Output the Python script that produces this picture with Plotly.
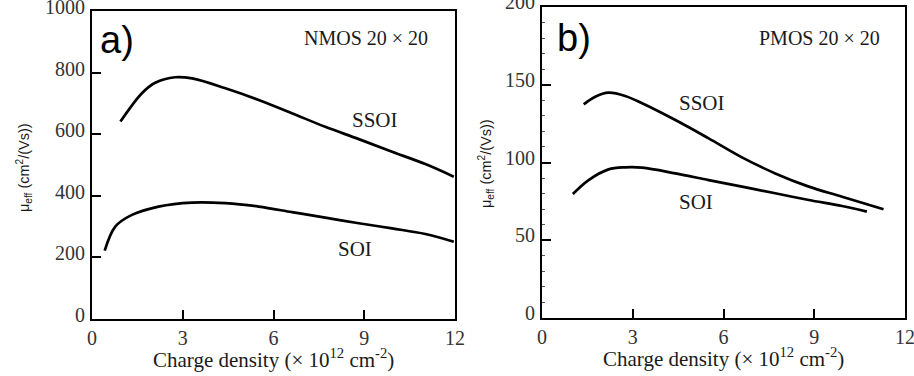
import plotly.graph_objects as go

# Panel a (NMOS)
a_ssoi_x = [0.94, 1.65, 2.09, 2.75, 3.31, 4.41, 5.51, 6.61, 7.71, 8.82, 9.92, 11.02, 11.96]
a_ssoi_y = [641, 733, 767, 785, 781, 749, 711, 668, 624, 584, 543, 503, 462]
a_soi_x = [0.42, 0.77, 1.32, 2.2, 3.31, 4.41, 5.51, 6.61, 7.71, 8.82, 9.92, 11.02, 11.96]
a_soi_y = [222, 300, 338, 365, 378, 376, 365, 347, 329, 311, 294, 276, 251]

# Panel b (PMOS)
b_ssoi_x = [1.38, 1.76, 2.2, 2.75, 3.31, 4.41, 5.51, 6.61, 7.71, 8.82, 9.92, 11.29]
b_ssoi_y = [137.4, 142.3, 144.9, 142.8, 138.1, 127.3, 115.5, 103.3, 93.0, 84.5, 78.0, 69.9]
b_soi_x = [1.02, 1.54, 2.2, 2.75, 3.31, 4.41, 5.51, 6.61, 7.71, 8.82, 9.92, 10.74]
b_soi_y = [79.7, 88.7, 95.6, 96.9, 96.7, 93.0, 88.7, 84.5, 80.2, 75.9, 72.0, 68.4]

x_ticks = [0, 3, 6, 9, 12]
a_y_ticks = [0, 200, 400, 600, 800, 1000]
b_y_ticks = [0, 50, 100, 150, 200]

line_style = dict(color="black", width=2.7, shape="spline", smoothing=1.0)

fig = go.Figure()
fig.add_trace(go.Scatter(x=a_ssoi_x, y=a_ssoi_y, mode="lines", line=line_style, xaxis="x", yaxis="y"))
fig.add_trace(go.Scatter(x=a_soi_x, y=a_soi_y, mode="lines", line=line_style, xaxis="x", yaxis="y"))
fig.add_trace(go.Scatter(x=b_ssoi_x, y=b_ssoi_y, mode="lines", line=line_style, xaxis="x2", yaxis="y2"))
fig.add_trace(go.Scatter(x=b_soi_x, y=b_soi_y, mode="lines", line=line_style, xaxis="x2", yaxis="y2"))

tickfont = dict(family="Liberation Serif", size=20, color="#333333")
common = dict(showline=True, linecolor="black", linewidth=2, mirror=True, ticks="inside",
              ticklen=9, tickwidth=1.5, tickcolor="black", showgrid=False, zeroline=False,
              tickfont=tickfont, automargin=False, ticklabeloverflow="allow")

fig.update_layout(
    template="none",
    width=914, height=376, margin=dict(l=0, r=0, t=0, b=0, pad=0),
    paper_bgcolor="white", plot_bgcolor="white", showlegend=False,
    xaxis=dict(domain=[92/914, 455/914], range=[0, 12], tickvals=x_ticks, anchor="y",
               ticklabelstandoff=0, **common),
    yaxis=dict(domain=[1-319/376, 1-11/376], range=[0, 1000], tickvals=a_y_ticks, anchor="x",
               ticklabelshift=-4, ticklabelstandoff=1, **common),
    xaxis2=dict(domain=[542/914, 905/914], range=[0, 12], tickvals=x_ticks, anchor="y2",
                ticklabelstandoff=0, **common),
    yaxis2=dict(domain=[1-318/376, 1-7/376], range=[0, 200], tickvals=b_y_ticks, anchor="x2",
                ticklabelshift=-5, ticklabelstandoff=1,
                minor=dict(ticks="inside", ticklen=3, dtick=10, tickcolor="#555555", tickwidth=1),
                **common),
)

ann = []
serif = "Liberation Serif"
sans = "Liberation Sans"
xtitle = "Charge density (× 10<sup>12</sup> cm<sup>-2</sup>)"
ytitle = "μ<sub>eff</sub> (cm<sup>2</sup>/(Vs))"


def add(text, x, y, font, xref="paper", yref="paper", angle=0, xanchor="center"):
    ann.append(dict(text=text, xref=xref, yref=yref,
                    x=x / 914 if xref == "paper" else x,
                    y=1 - y / 376 if yref == "paper" else y,
                    showarrow=False, xanchor=xanchor, yanchor="middle",
                    textangle=angle, font=font))


add(xtitle, 273, 358, dict(family=serif, size=21, color="#1a1a1a"))
add(xtitle, 723, 357, dict(family=serif, size=21, color="#1a1a1a"))
add(ytitle, 24, 168, dict(family=sans, size=14.5, color="#1a1a1a"), angle=-90)
add(ytitle, 486, 163, dict(family=sans, size=14.5, color="#1a1a1a"), angle=-90)
add("a)", 98, 40, dict(family=sans, size=38, color="black"), xanchor="left")
add("b)", 555, 38, dict(family=sans, size=38, color="black"), xanchor="left")
add("NMOS 20 × 20", 366, 38, dict(family=serif, size=20, color="#1a1a1a"))
add("PMOS 20 × 20", 819, 38, dict(family=serif, size=20, color="#1a1a1a"))
add("SSOI", 9.34, 646, dict(family=serif, size=21, color="#1a1a1a"), xref="x", yref="y")
add("SOI", 8.7, 226, dict(family=serif, size=21, color="#1a1a1a"), xref="x", yref="y")
add("SSOI", 5.29, 138, dict(family=serif, size=21, color="#1a1a1a"), xref="x2", yref="y2")
add("SOI", 5.09, 74.8, dict(family=serif, size=21, color="#1a1a1a"), xref="x2", yref="y2")
fig.update_layout(annotations=ann)

fig.write_html("out.html")
